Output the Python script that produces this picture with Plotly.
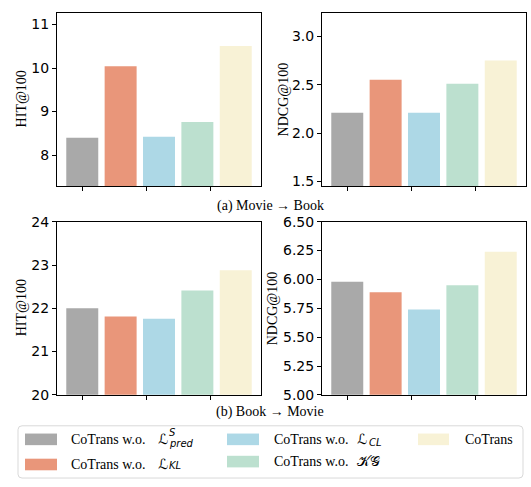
import plotly.graph_objects as go

# ---- data ----
variants = ["CoTrans w.o. L_pred^S", "CoTrans w.o. L_KL", "CoTrans w.o. L_CL",
            "CoTrans w.o. KG", "CoTrans"]
colors = ["#A9A9A9", "#E9967A", "#ADD8E6", "#BCE0CF", "#F8F2D6"]

movie_book_hit = [8.40, 10.04, 8.42, 8.76, 10.51]
movie_book_ndcg = [2.21, 2.55, 2.21, 2.51, 2.75]
book_movie_hit = [22.00, 21.81, 21.76, 22.41, 22.88]
book_movie_ndcg = [5.98, 5.89, 5.74, 5.95, 6.24]

ylabels = ["HIT@100", "NDCG@100", "HIT@100", "NDCG@100"]
captions = ["(a) Movie \u2192 Book", "(b) Book \u2192 Movie"]

legend_prefix = ["CoTrans w.o.", "CoTrans w.o.", "CoTrans w.o.", "CoTrans w.o.", "CoTrans"]
legend_symbol = ["\u2112", "\u2112", "\u2112", "\U0001D4A6\U0001D4A2", ""]
legend_sup = ["S", "", "", "", ""]
legend_sub = ["pred", "KL", "CL", "", ""]

W, H = 531, 487
def px(x):
    return x / W
def py(y):
    return 1 - y / H

positions = [i * 0.3 for i in range(len(variants))]
bar_width = 0.25

panels = [
    dict(vals=movie_book_hit, xd=(57, 261), yd=(5, 184), yr=[7.29, 11.27],
         tv=[8, 9, 10, 11], fmt="d", tx=21),
    dict(vals=movie_book_ndcg, xd=(322, 526), yd=(5, 184), yr=[1.453, 3.243],
         tv=[1.5, 2.0, 2.5, 3.0], fmt=".1f", tx=283),
    dict(vals=book_movie_hit, xd=(57, 261), yd=(221, 400), yr=[20, 24],
         tv=[20, 21, 22, 23, 24], fmt="d", tx=21),
    dict(vals=book_movie_ndcg, xd=(322, 526), yd=(221, 400), yr=[5.0, 6.5],
         tv=[5.0, 5.25, 5.5, 5.75, 6.0, 6.25, 6.5], fmt=".2f", tx=272),
]

fig = go.Figure()
layout = dict(autosize=True, margin=dict(l=0, r=0, t=0, b=0, pad=0),
              paper_bgcolor="white", plot_bgcolor="white", showlegend=False)
annotations = []
shapes = []
tickfont = dict(family="DejaVu Sans", size=14, color="black")
serif = "Liberation Serif, Times New Roman, serif"

for i, p in enumerate(panels):
    n = "" if i == 0 else str(i + 1)
    fig.add_trace(go.Bar(x=positions, y=p["vals"], width=bar_width,
                         marker=dict(color=colors, line=dict(width=0)),
                         xaxis="x" + n, yaxis="y" + n, showlegend=False))
    layout["xaxis" + n] = dict(
        domain=[px(p["xd"][0]), px(p["xd"][1])], anchor="y" + n,
        range=[-0.1975, 1.3975], tickvals=[0, 0.5, 1.0], showticklabels=False,
        ticks="outside", ticklen=4, tickwidth=1, tickcolor="black",
        showline=True, linecolor="black", linewidth=1, mirror=True,
        showgrid=False, zeroline=False, fixedrange=True)
    layout["yaxis" + n] = dict(
        domain=[py(p["yd"][1]), py(p["yd"][0])], anchor="x" + n,
        range=p["yr"], tickvals=p["tv"], tickformat=p["fmt"],
        ticks="outside", ticklen=4, tickwidth=1, tickcolor="black",
        tickfont=tickfont, showline=True, linecolor="black", linewidth=1,
        mirror=True, showgrid=False, zeroline=False, fixedrange=True)
    annotations.append(dict(
        text=ylabels[i], x=px(p["tx"]), y=py((p["yd"][0] + p["yd"][1]) / 2),
        xref="paper", yref="paper", textangle=-90, showarrow=False,
        xanchor="center", yanchor="middle",
        font=dict(family=serif, size=14, color="black")))

for cap, yc in zip(captions, [205, 418]):
    annotations.append(dict(
        text=cap, x=px(270), y=py(yc), xref="paper", yref="paper",
        showarrow=False, xanchor="center", yanchor="middle",
        font=dict(family=serif, size=14, color="black")))

# legend box (rounded)
x0, x1, y0, y1, r = px(18), px(523), py(486), py(432), 4
rx, ry = r / W, r / H
path = (f"M {x0+rx},{y1} L {x1-rx},{y1} Q {x1},{y1} {x1},{y1-ry} "
        f"L {x1},{y0+ry} Q {x1},{y0} {x1-rx},{y0} L {x0+rx},{y0} "
        f"Q {x0},{y0} {x0},{y0+ry} L {x0},{y1-ry} Q {x0},{y1} {x0+rx},{y1} Z")
shapes.append(dict(type="path", path=path, xref="paper", yref="paper",
                   line=dict(color="#D9D9D9", width=1), fillcolor="white"))

# legend entries: column-major, 2 rows
# (patch_x0, patch_x1, text_x, center_y, symbol_x, script_x, sup_y, sub_y)
entry_pos = [
    (25, 57, 69, 446, 156, 167, 439, 450),
    (25, 57, 69, 472, 156, 167, 466, 473),
    (227, 259, 272, 446, 355, 367, 439, 449),
    (227, 259, 272, 469, 355, 367, 462, 473),
    (418, 449, 463, 446, 0, 0, 0, 0),
]


def ann(text, x, y, family, size, anchor="left"):
    annotations.append(dict(
        text=text, x=px(x), y=py(y), xref="paper", yref="paper",
        showarrow=False, xanchor=anchor, yanchor="middle",
        font=dict(family=family, size=size, color="black")))


for k, col in enumerate(colors):
    a, b, tx, cy, sx, scx, supy, suby = entry_pos[k]
    shapes.append(dict(type="rect", xref="paper", yref="paper",
                       x0=px(a), x1=px(b), y0=py(cy + 6), y1=py(cy - 6),
                       line=dict(width=0), fillcolor=col))
    ann(legend_prefix[k], tx, cy, serif, 14)
    if legend_symbol[k]:
        ann(legend_symbol[k], sx, cy - 0.5, "DejaVu Sans", 14)
    if legend_sup[k]:
        ann("<i>" + legend_sup[k] + "</i>", scx, supy, "DejaVu Sans", 10)
    if legend_sub[k]:
        ann("<i>" + legend_sub[k] + "</i>", scx, suby, "DejaVu Sans", 10)

layout["annotations"] = annotations
layout["shapes"] = shapes
fig.update_layout(**layout)
fig.write_html("out.html",
               config={"displayModeBar": False, "responsive": True},
               default_width="100vw", default_height="100vh",
               post_script="document.documentElement.style.margin='0';"
                           "document.body.style.margin='0';"
                           "document.body.style.padding='0';"
                           "document.body.style.overflow='hidden';"
                           "window.dispatchEvent(new Event('resize'));")
